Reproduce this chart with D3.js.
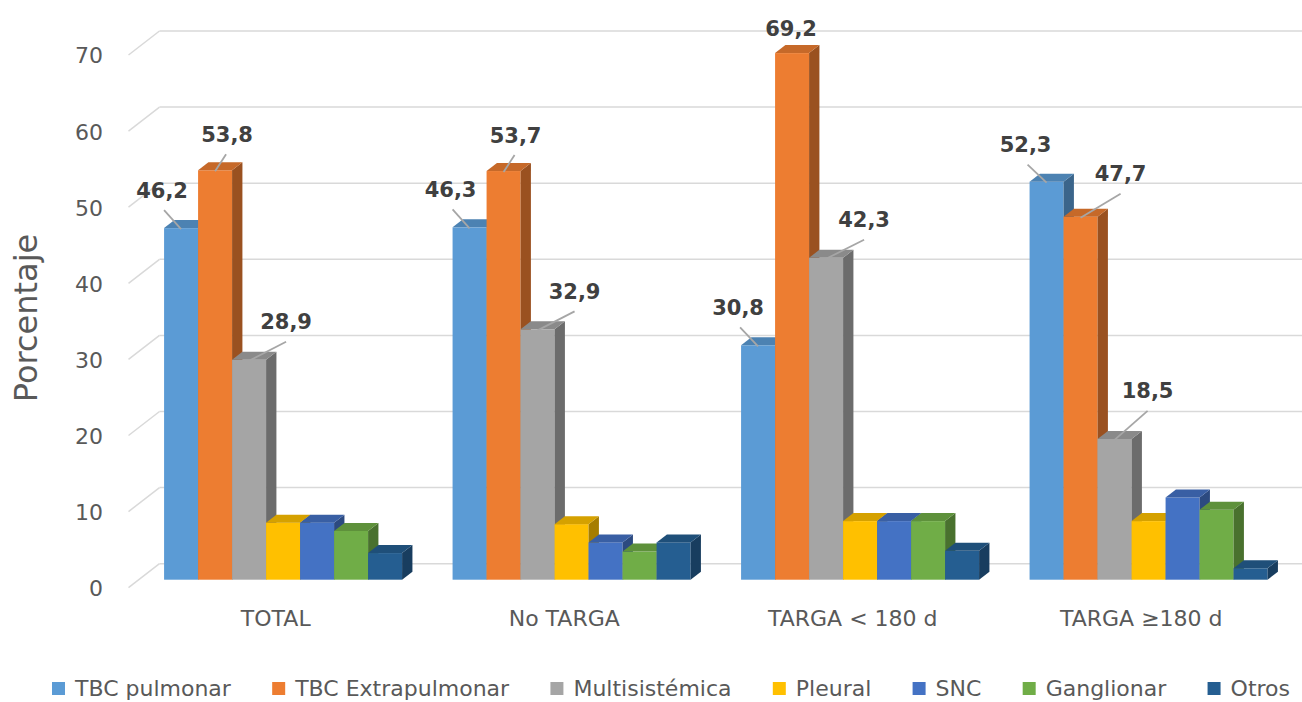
<!DOCTYPE html>
<html>
<head>
<meta charset="utf-8">
<script src="https://cdn.jsdelivr.net/npm/d3@7"></script>
<style>
  html, body { margin: 0; padding: 0; background: #fff; }
  svg { display: block; }
  text { font-family: "DejaVu Sans", sans-serif; }
</style>
</head>
<body>
<svg id="chart" width="1302" height="702"></svg>
<script>
// ---- data ----
const categories = ["TOTAL", "No TARGA", "TARGA < 180 d", "TARGA \u2265180 d"];
const series = ["TBC pulmonar", "TBC Extrapulmonar", "Multisist\u00e9mica", "Pleural", "SNC", "Ganglionar", "Otros"];
const tbcPulmonar      = [46.2, 46.3, 30.8, 52.3];
const tbcExtrapulmonar = [53.8, 53.7, 69.2, 47.7];
const multisistemica   = [28.9, 32.9, 42.3, 18.5];
const pleural          = [7.5, 7.3, 7.7, 7.7];
const snc              = [7.5, 4.9, 7.7, 10.8];
const ganglionar       = [6.4, 3.7, 7.7, 9.2];
const otros            = [3.5, 4.9, 3.8, 1.5];
const yTicks = [0, 10, 20, 30, 40, 50, 60, 70];
const labeledSeries = ["TBC pulmonar", "TBC Extrapulmonar", "Multisist\u00e9mica"];

const values = [tbcPulmonar, tbcExtrapulmonar, multisistemica, pleural, snc, ganglionar, otros];
const colors = ["#5B9BD5", "#ED7D31", "#A5A5A5", "#FFC000", "#4472C4", "#70AD47", "#255E91"];

// ---- layout (label nudges relative to bar top, per category / labeled series) ----
const labelNudge = [
  [[-19, -39], [12, -37], [37, -39]],
  [[-19, -39], [12, -37], [37, -39]],
  [[-20, -39], [-1, -26], [38, -39]],
  [[-21, -38], [40, -44], [33, -49]]
];
const noLeader = [[false,false,false],[false,false,false],[false,true,false],[false,false,false]];

const svg = d3.select("#chart");
const W = 1302, H = 702;

// oblique depth projection
const depthX = 31, depthY = -24;          // full depth of the plot
const barD0 = 1/3, barD1 = 2/3;           // bars occupy middle third of depth

const x = d3.scaleBand().domain(categories).range([128.5, 1282.5])
  .paddingInner(0.175).paddingOuter(0.0875);
const xs = d3.scaleBand().domain(series).range([0, x.bandwidth()]);
const y = d3.scaleLinear().domain([0, 70]).range([587.7, 55]);

const gGrid = svg.append("g");
const grid = "#D9D9D9";
yTicks.forEach(t => {
  const yf = y(t);
  gGrid.append("line")
    .attr("x1", x.range()[0]).attr("y1", yf)
    .attr("x2", x.range()[0] + depthX).attr("y2", yf + depthY)
    .attr("stroke", grid).attr("stroke-width", 1.5);
  gGrid.append("line")
    .attr("x1", x.range()[0] + depthX).attr("y1", yf + depthY)
    .attr("x2", W + 20).attr("y2", yf + depthY)
    .attr("stroke", grid).attr("stroke-width", 1.5);
});

// y tick labels (d3 axis, styled)
const yAxis = d3.axisLeft(y).tickValues(yTicks).tickSize(0).tickPadding(0).tickFormat(d3.format("d"));
const gAxis = svg.append("g").attr("transform", "translate(103,0)").call(yAxis);
gAxis.select(".domain").remove();
gAxis.selectAll("text")
  .attr("font-family", "DejaVu Sans, sans-serif")
  .attr("font-size", 22).attr("fill", "#595959").attr("dy", "0.36em");

// y title
svg.append("text")
  .attr("transform", "translate(37,318) rotate(-90)")
  .attr("text-anchor", "middle")
  .attr("font-size", 32).attr("fill", "#595959")
  .text("Porcentaje");

// bars
const bdx = depthX * barD0, bdy = depthY * barD0;
const ddx = depthX * (barD1 - barD0), ddy = depthY * (barD1 - barD0);
const gBars = svg.append("g");
categories.forEach((c, gi) => {
  series.forEach((s, si) => {
    const v = values[si][gi];
    const x0 = x(c) + xs(s) + bdx;
    const x1 = x0 + xs.bandwidth();
    const yt = y(v) + bdy;
    const yb = y(0) + bdy;
    const base = d3.color(colors[si]);
    // front
    gBars.append("rect").attr("x", x0).attr("y", yt)
      .attr("width", x1 - x0).attr("height", yb - yt)
      .attr("fill", base.formatHex());
    // side
    gBars.append("path")
      .attr("d", `M${x1},${yt}L${x1 + ddx},${yt + ddy}L${x1 + ddx},${yb + ddy}L${x1},${yb}Z`)
      .attr("fill", base.darker(1.2).formatHex());
    // top
    gBars.append("path")
      .attr("d", `M${x0},${yt}L${x0 + ddx},${yt + ddy}L${x1 + ddx},${yt + ddy}L${x1},${yt}Z`)
      .attr("fill", base.darker(0.5).formatHex());
  });
});

// data labels with leader lines
const gLab = svg.append("g");
categories.forEach((c, gi) => {
  labeledSeries.forEach((s, li) => {
    const si = series.indexOf(s);
    const v = values[si][gi];
    const ax = x(c) + xs(s) + bdx + xs.bandwidth() / 2;
    const ay = y(v) + bdy + 1;
    const [nx, ny] = labelNudge[gi][li];
    const lx = ax + nx, ly = ay + ny;
    if (!noLeader[gi][li]) {
      gLab.append("line")
        .attr("x1", lx + (nx < 0 ? 2 : (nx > 20 ? 0 : -1))).attr("y1", ly + 20)
        .attr("x2", ax).attr("y2", ay)
        .attr("stroke", "#A6A6A6").attr("stroke-width", 1.8);
    }
    gLab.append("text")
      .attr("x", lx).attr("y", ly).attr("dy", "0.36em")
      .attr("text-anchor", "middle")
      .attr("font-size", 21).attr("font-weight", "bold").attr("fill", "#404040")
      .text(d3.format(".1f")(v).replace(".", ","));
  });
});

// category labels
const gCat = svg.append("g");
categories.forEach(c => {
  gCat.append("text")
    .attr("x", x(c) + x.bandwidth() / 2 + 3).attr("y", 626)
    .attr("text-anchor", "middle")
    .attr("font-size", 22).attr("fill", "#595959")
    .text(c);
});

// legend
const gLeg = svg.append("g");
const legLeft = 52, legRight = 1290, sq = 13, sqGap = 10;
const items = series.map((s, i) => {
  const g = gLeg.append("g");
  g.append("rect").attr("width", sq).attr("height", sq).attr("y", -sq / 2).attr("fill", colors[i]);
  const t = g.append("text").attr("x", sq + sqGap).attr("dy", "0.36em")
    .attr("font-size", 22).attr("fill", "#595959").text(s);
  return { g, w: sq + sqGap + t.node().getComputedTextLength() };
});
const totalW = d3.sum(items, d => d.w);
const gap = (legRight - legLeft - totalW) / (items.length - 1);
let cx = legLeft;
items.forEach(it => {
  it.g.attr("transform", `translate(${cx},688.5)`);
  cx += it.w + gap;
});
</script>
</body>
</html>
